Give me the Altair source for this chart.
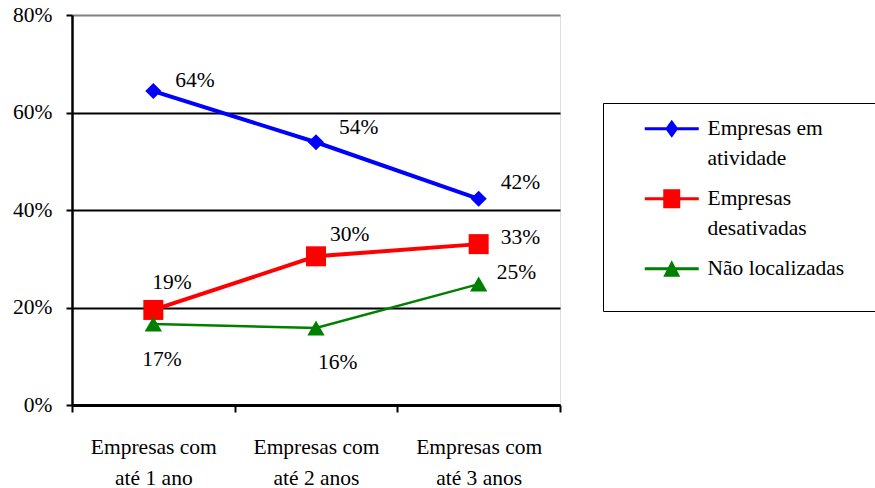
import altair as alt
import pandas as pd

# ---- data ----
categories = ["Empresas com até 1 ano", "Empresas com até 2 anos", "Empresas com até 3 anos"]
series_names = ["Empresas em atividade", "Empresas desativadas", "Não localizadas"]
em_atividade = [0.644, 0.539, 0.423]
desativadas = [0.195, 0.305, 0.330]
nao_localizadas = [0.166, 0.158, 0.248]
labels_atividade = ["64%", "54%", "42%"]
labels_desativadas = ["19%", "30%", "33%"]
labels_nao_localizadas = ["17%", "16%", "25%"]
y_ticks = [0, 0.2, 0.4, 0.6, 0.8]

series_values = [em_atividade, desativadas, nao_localizadas]
series_labels = [labels_atividade, labels_desativadas, labels_nao_localizadas]

rows = []
for s, vals, labs in zip(series_names, series_values, series_labels):
    for c, v, l in zip(categories, vals, labs):
        rows.append({"series": s, "category": c, "value": v, "label": l})
df = pd.DataFrame(rows)

# ---- styles ----
FONT = "Liberation Serif"
FS = 21.5
colors = ["#0000FF", "#FF0000", "#008000"]
line_widths = [4, 4, 2.5]
shapes = ["diamond", "square", "triangle-up"]
shape_sizes = [260, 400, 300]
# legend symbols: line segment + marker (unit = 10 px)
legend_paths = [
    "M-2.7,-0.15H2.7V0.15H-2.7ZM0,-0.9L0.65,0L0,0.9L-0.65,0Z",
    "M-2.7,-0.15H2.7V0.15H-2.7ZM-0.85,-0.95H0.85V0.95H-0.85Z",
    "M-2.7,-0.15H2.7V0.15H-2.7ZM0,-0.85L0.85,0.8L-0.85,0.8Z",
]
# label offsets (dx, dy) per series, per category
label_offsets = [
    [(22, -10), (23, -14), (22, -16)],
    [(-1, -27), (14, -21), (22, -6)],
    [(-11, 36), (2, 35), (18, -11)],
]

X = alt.X(
    "category:N",
    sort=categories,
    scale=alt.Scale(paddingInner=0, paddingOuter=0),
    axis=alt.Axis(
        title=None, labelAngle=0, tickBand="extent",
        labelExpr="[slice(datum.label, 0, 12), slice(datum.label, 13)]",
        labelFont=FONT, labelFontSize=FS, labelColor="black", labelLineHeight=31,
        labelPadding=24, tickSize=7, tickWidth=2, tickColor="black",
        domainColor="black", domainWidth=3, grid=False,
    ),
)
Y = alt.Y(
    "value:Q",
    scale=alt.Scale(domain=[0, 0.8], nice=False),
    axis=alt.Axis(
        title=None, values=y_ticks, format=".0%",
        labelFont=FONT, labelFontSize=FS, labelColor="black", labelPadding=14,
        tickSize=6, tickWidth=2, tickColor="black",
        domainColor="black", domainWidth=2.5,
        grid=True, gridWidth=2,
        gridColor={"condition": {"test": "datum.value >= 0.79", "value": "#808080"}, "value": "black"},
    ),
)

layers = []
for i, s in enumerate(series_names):
    sub = df[df["series"] == s]
    layers.append(alt.Chart(sub).mark_line(color=colors[i], strokeWidth=line_widths[i]).encode(x=X, y=Y))
for i, s in enumerate(series_names):
    sub = df[df["series"] == s]
    layers.append(
        alt.Chart(sub).mark_point(filled=True, opacity=1, color=colors[i], shape=shapes[i],
                                  size=shape_sizes[i]).encode(x=X, y=Y)
    )
for i, s in enumerate(series_names):
    for j, c in enumerate(categories):
        sub = df[(df["series"] == s) & (df["category"] == c)]
        dx, dy = label_offsets[i][j]
        layers.append(
            alt.Chart(sub).mark_text(
                align="left", baseline="middle", dx=dx, dy=dy,
                font=FONT, fontSize=FS, color="black",
            ).encode(x=X, y=Y, text="label:N")
        )

PAD = "\u2800" * 2
legend_label_expr = (
    "datum.label == 'Empresas em atividade' ? ['Empresas em', 'atividade'] : "
    "datum.label == 'Empresas desativadas' ? ['Empresas', 'desativadas'] : "
    f"'Não localizadas{PAD}'"
)
legend = alt.Legend(
    title="\u00a0", titleOrient="bottom", titleFontSize=12, titlePadding=6, titleFont=FONT,
    orient="none", legendX=531, legendY=88, direction="vertical",
    symbolSize=400, symbolOffset=43, symbolStrokeWidth=0, symbolOpacity=1,
    labelFont=FONT, labelFontSize=FS, labelColor="black", labelOffset=25, labelLimit=500,
    labelExpr=legend_label_expr,
    padding=15, strokeColor="black", fillColor="white", rowPadding=17,
)
carrier = alt.Chart(df).mark_point(filled=True, opacity=0).encode(
    x=X, y=Y,
    color=alt.Color("series:N", sort=series_names,
                    scale=alt.Scale(domain=series_names, range=colors), legend=legend),
    shape=alt.Shape("series:N", sort=series_names,
                    scale=alt.Scale(domain=series_names, range=legend_paths), legend=legend),
)
layers.append(carrier)

chart = alt.layer(*layers).properties(
    width=488, height=390,
    autosize=alt.AutoSizeParams(type="none"),
    padding={"left": 72, "top": 15, "right": 315, "bottom": 83},
    background="white",
).configure_view(stroke="#808080", strokeWidth=2).configure(
    style={"guide-label": {"lineHeight": 30}}
)

chart.save("out.html", embed_options={"renderer": "svg", "actions": False})
